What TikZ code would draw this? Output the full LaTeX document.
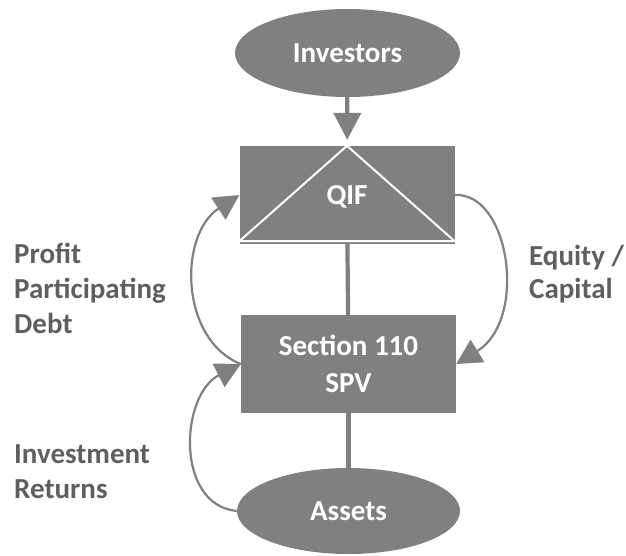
\documentclass[tikz,border=0pt]{standalone}
\usepackage{fontspec}
\setmainfont{Carlito}
\usetikzlibrary{arrows.meta,shapes.geometric}
\definecolor{boxgray}{HTML}{808080}
\definecolor{labelgray}{HTML}{5F5F5F}
\begin{document}
\begin{tikzpicture}[x=1pt,y=-1pt,
  bigfont/.style={font=\fontsize{29}{37}\selectfont\bfseries},
  oval/.style={ellipse, fill=boxgray, text=white, bigfont, inner sep=0pt},
  block/.style={rectangle, fill=boxgray, text=white, bigfont, inner sep=0pt,
    minimum width=215pt, align=center},
  flow/.style={draw=boxgray, line width=4.2pt},
  loop/.style={draw=boxgray, line width=2.2pt,
    -{Triangle[length=25pt,width=26pt]}},
  sidelabel/.style={text=labelgray, anchor=base west, inner sep=0pt,
    font=\fontsize{29}{34}\selectfont\bfseries}]
\useasboundingbox (0,0) rectangle (626,555);

% main chain
\node[oval, minimum width=225pt, minimum height=88pt] (inv) at (347.5,53)
  {\raisebox{-3.5pt}{Investors}};
\node[block, minimum height=98pt] (qif) at (347,195) {};
\node[block, minimum height=98pt] (spv) at (348.5,364)
  {Section 110\\SPV};
\node[oval, minimum width=223pt, minimum height=86pt] (assets) at (348.5,511)
  {\raisebox{-3.5pt}{Assets}};

% white triangle inside the QIF block
\draw[white, line width=2pt, line join=miter]
  (qif.north) -- ([yshift=3pt]qif.south west) -- ([yshift=3pt]qif.south east) -- cycle;
\node[text=white, bigfont, inner sep=0pt] (qiftext) at (347,196.5) {QIF};

% straight connectors
\draw[flow, -{Triangle[length=27pt,width=27pt]}, shorten >=6pt] (inv) -- (qif);
\draw[flow] (qif) -- (spv);
\draw[flow] (spv) -- (assets);

% curved flows
\draw[loop] (spv.west) .. controls (180,340) and (178,235) .. (qif.west);
\draw[loop] (qif.east) .. controls (510,192) and (528,320) .. (spv.east);
\draw[loop] (assets.west) .. controls (175,505) and (180,395) .. (spv.west);

% side labels
\node[sidelabel] (l1) at (14,263) {Profit};
\node[sidelabel] (l2) at (14,298) {Participating};
\node[sidelabel] (l3) at (14,333) {Debt};
\node[sidelabel] (r1) at (529,265) {Equity /};
\node[sidelabel] (r2) at (529,298) {Capital};
\node[sidelabel] (b1) at (14,463) {Investment};
\node[sidelabel] (b2) at (14,498) {Returns};
\end{tikzpicture}
\end{document}
